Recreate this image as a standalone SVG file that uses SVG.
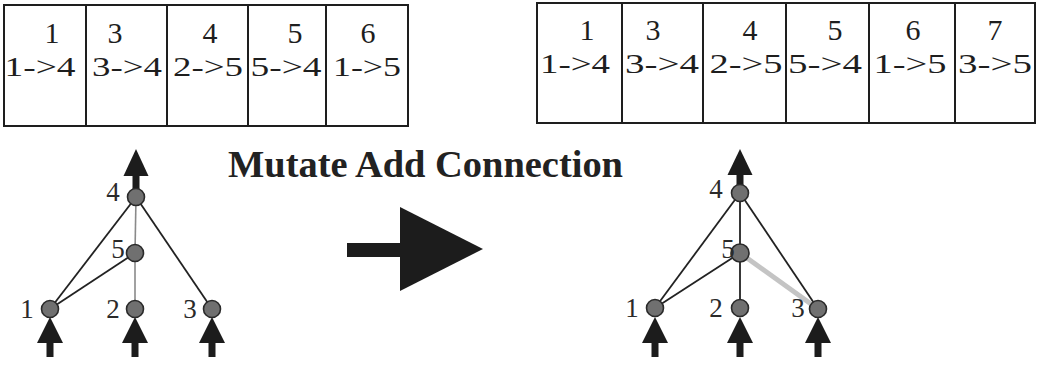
<svg xmlns="http://www.w3.org/2000/svg" width="1038" height="366" viewBox="0 0 1038 366">
<style>
.cell{fill:#fff;stroke:#1e1e1e;stroke-width:2}
.num{font-family:"Liberation Serif",serif;font-size:30px;fill:#1e1e1e;text-anchor:middle}
.con{font-family:"Liberation Serif",serif;font-size:28px;fill:#1e1e1e;text-anchor:middle}
.lbl{font-family:"Liberation Serif",serif;font-size:27px;fill:#2a2a2a;text-anchor:middle}
.title{font-family:"Liberation Serif",serif;font-size:37px;font-weight:bold;fill:#222}
.edge{stroke:#222;stroke-width:1.8;fill:none}
.edge-g{stroke:#8a8a8a;stroke-width:1.6;fill:none}
.edge-new{stroke:#c4c4c4;stroke-width:5;fill:none}
.node{fill:#707070;stroke:#2a2a2a;stroke-width:1.6}
.arr{fill:#1c1c1c}
</style>
<rect width="1038" height="366" fill="#fff"/>

<g id="genome-before">
<rect class="cell" x="4" y="5" width="82" height="121"/>
<rect class="cell" x="86" y="5" width="81" height="121"/>
<rect class="cell" x="167" y="5" width="81" height="121"/>
<rect class="cell" x="248" y="5" width="78" height="121"/>
<rect class="cell" x="326" y="5" width="82" height="121"/>
<text class="num" x="52" y="43">1</text><text class="con" x="40" y="76" textLength="71" lengthAdjust="spacingAndGlyphs">1-&gt;4</text>
<text class="num" x="115" y="43">3</text><text class="con" x="127" y="76" textLength="70" lengthAdjust="spacingAndGlyphs">3-&gt;4</text>
<text class="num" x="210" y="43">4</text><text class="con" x="208" y="76" textLength="70" lengthAdjust="spacingAndGlyphs">2-&gt;5</text>
<text class="num" x="295" y="43">5</text><text class="con" x="286" y="76" textLength="71" lengthAdjust="spacingAndGlyphs">5-&gt;4</text>
<text class="num" x="368" y="43">6</text><text class="con" x="367" y="76" textLength="68" lengthAdjust="spacingAndGlyphs">1-&gt;5</text>
</g>

<g id="genome-after">
<rect class="cell" x="537" y="3" width="85" height="120"/>
<rect class="cell" x="622" y="3" width="81" height="120"/>
<rect class="cell" x="703" y="3" width="83" height="120"/>
<rect class="cell" x="786" y="3" width="83" height="120"/>
<rect class="cell" x="869" y="3" width="86" height="120"/>
<rect class="cell" x="955" y="3" width="80" height="120"/>
<text class="num" x="587" y="40">1</text><text class="con" x="575" y="73" textLength="70" lengthAdjust="spacingAndGlyphs">1-&gt;4</text>
<text class="num" x="653" y="40">3</text><text class="con" x="662" y="73" textLength="74" lengthAdjust="spacingAndGlyphs">3-&gt;4</text>
<text class="num" x="750" y="40">4</text><text class="con" x="746" y="73" textLength="73" lengthAdjust="spacingAndGlyphs">2-&gt;5</text>
<text class="num" x="835" y="40">5</text><text class="con" x="825" y="73" textLength="74" lengthAdjust="spacingAndGlyphs">5-&gt;4</text>
<text class="num" x="913" y="40">6</text><text class="con" x="910" y="73" textLength="73" lengthAdjust="spacingAndGlyphs">1-&gt;5</text>
<text class="num" x="995" y="40">7</text><text class="con" x="995" y="73" textLength="74" lengthAdjust="spacingAndGlyphs">3-&gt;5</text>
</g>

<g id="title">
<text class="title" x="228" y="177" textLength="395" lengthAdjust="spacingAndGlyphs">Mutate Add Connection</text>
</g>

<g id="mutate-arrow">
<rect class="arr" x="347" y="243" width="56" height="14"/>
<polygon class="arr" points="400,207 483,249 400,291"/>
</g>

<g id="connectors">
<g id="left-edges">
<line class="edge" x1="136" y1="197" x2="50" y2="309"/>
<line class="edge" x1="136" y1="197" x2="212" y2="309"/>
<line class="edge-g" x1="136" y1="197" x2="135" y2="253"/>
<line class="edge-g" x1="135" y1="253" x2="135" y2="309"/>
<line class="edge" x1="135" y1="253" x2="50" y2="309"/>
</g>
<g id="right-edges">
<line class="edge" x1="740" y1="193" x2="655" y2="308"/>
<line class="edge" x1="740" y1="193" x2="818" y2="309"/>
<line class="edge" x1="740" y1="193" x2="740" y2="253"/>
<line class="edge" x1="740" y1="253" x2="740" y2="308"/>
<line class="edge" x1="740" y1="253" x2="655" y2="308"/>
<line class="edge-new" x1="740" y1="253" x2="818" y2="309"/>
</g>
<g id="io-arrows">
<rect class="arr" x="132.5" y="172" width="7" height="20"/><polygon class="arr" points="136,149 123.5,176 148.5,176"/>
<rect class="arr" x="736.5" y="170" width="7" height="18"/><polygon class="arr" points="740,149 727.5,175 752.5,175"/>
<rect class="arr" x="46.5" y="340" width="7" height="17"/><polygon class="arr" points="50,317 37,343 63,343"/>
<rect class="arr" x="131.5" y="340" width="7" height="17"/><polygon class="arr" points="135,317 122,343 148,343"/>
<rect class="arr" x="208.5" y="340" width="7" height="17"/><polygon class="arr" points="212,317 199,343 225,343"/>
<rect class="arr" x="651.5" y="340" width="7" height="17"/><polygon class="arr" points="655,317 642,343 668,343"/>
<rect class="arr" x="736.5" y="340" width="7" height="17"/><polygon class="arr" points="740,317 727,343 753,343"/>
<rect class="arr" x="814.5" y="340" width="7" height="17"/><polygon class="arr" points="818,317 805,343 831,343"/>
</g>
</g>

<g id="L4"><circle class="node" cx="136" cy="197" r="8.5"/><text class="lbl" x="113" y="201">4</text></g>
<g id="L5"><circle class="node" cx="135" cy="253" r="8.5"/><text class="lbl" x="118" y="258">5</text></g>
<g id="L1"><circle class="node" cx="50" cy="309" r="8.5"/><text class="lbl" x="27" y="318">1</text></g>
<g id="L2"><circle class="node" cx="135" cy="309" r="8.5"/><text class="lbl" x="113" y="318">2</text></g>
<g id="L3"><circle class="node" cx="212" cy="309" r="8.5"/><text class="lbl" x="190" y="318">3</text></g>

<g id="R4"><circle class="node" cx="740" cy="193" r="8.5"/><text class="lbl" x="716" y="198">4</text></g>
<g id="R5"><circle class="node" cx="740" cy="253" r="9"/><text class="lbl" x="728" y="258">5</text></g>
<g id="R1"><circle class="node" cx="655" cy="308" r="8.5"/><text class="lbl" x="632" y="317">1</text></g>
<g id="R2"><circle class="node" cx="740" cy="308" r="8.5"/><text class="lbl" x="716" y="317">2</text></g>
<g id="R3"><circle class="node" cx="818" cy="309" r="8.5"/><text class="lbl" x="798" y="317">3</text></g>
</svg>
